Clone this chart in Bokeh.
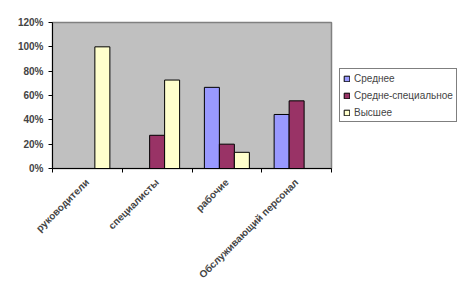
import numpy as np
from bokeh.plotting import figure
from bokeh.models import (ColumnDataSource, FixedTicker, NumeralTickFormatter,
                          Legend, LegendItem, Range1d, LinearAxis)
from bokeh.transform import dodge
from bokeh.embed import file_html
from bokeh.resources import INLINE

categories = ["руководители", "специалисты", "рабочие", "Обслуживающий персонал"]
series = ["Среднее", "Средне-специальное", "Высшее"]
srednee = [0.0, 0.0, 0.667, 0.444]
sred_spec = [0.0, 0.273, 0.20, 0.556]
vysshee = [1.0, 0.727, 0.133, 0.0]
colors = ["#9999FF", "#993366", "#FFFFCC"]
y_ticks = [0, 0.2, 0.4, 0.6, 0.8, 1.0, 1.2]

n = len(categories)
centers = np.arange(n) + 0.5
src = ColumnDataSource(dict(x=centers, s0=srednee, s1=sred_spec, s2=vysshee))

p = figure(output_backend="svg", toolbar_location=None,
           frame_width=279, frame_height=146,
           x_range=Range1d(0, n), y_range=Range1d(0, 1.2),
           x_axis_type=None, y_axis_type=None,
           min_border_left=52, min_border_right=138, min_border_top=22,
           min_border_bottom=126)
p.background_fill_color = "#C0C0C0"
p.border_fill_color = "white"
p.outline_line_color = "#808080"
p.outline_line_width = 1.5
p.xgrid.visible = False
p.ygrid.visible = False

bw = 0.215
offsets = [-bw, 0.0, bw]
renderers = []
for i, (col, c) in enumerate(zip(["s0", "s1", "s2"], colors)):
    r = p.vbar(x=dodge("x", offsets[i], range=p.x_range), top=col, bottom=0,
               width=bw, source=src, fill_color=c, line_color="black", line_width=1)
    renderers.append(r)

font = "Liberation Sans"
yaxis = LinearAxis(ticker=FixedTicker(ticks=y_ticks),
                   formatter=NumeralTickFormatter(format="0%"))
yaxis.major_label_text_font = font
yaxis.major_label_text_font_style = "bold"
yaxis.major_label_text_font_size = "10px"
yaxis.major_tick_out = 4
yaxis.major_tick_in = 0
yaxis.minor_tick_out = 0
yaxis.minor_tick_in = 0
yaxis.major_label_standoff = 5
yaxis.axis_line_color = "black"
p.add_layout(yaxis, "left")

xaxis = LinearAxis(ticker=FixedTicker(ticks=list(centers), minor_ticks=list(range(n + 1))),
                   major_label_overrides={float(c): lab for c, lab in zip(centers, categories)})
xaxis.major_label_orientation = np.pi / 4
xaxis.major_label_text_font = font
xaxis.major_label_text_font_style = "bold"
xaxis.major_label_text_font_size = "10px"
xaxis.major_tick_out = 0
xaxis.major_tick_in = 0
xaxis.minor_tick_out = 4
xaxis.minor_tick_in = 0
xaxis.major_label_standoff = 8
xaxis.axis_line_color = "black"
p.add_layout(xaxis, "below")

legend = Legend(items=[LegendItem(label=s, renderers=[r]) for s, r in zip(series, renderers)],
                location="center_left")
legend.label_text_font = font
legend.label_text_font_size = "10px"
legend.glyph_width = 7
legend.glyph_height = 7
legend.label_height = 12
legend.label_standoff = 4
legend.spacing = 5
legend.padding = 3
legend.margin = 8
legend.border_line_color = "black"
legend.border_line_width = 1
legend.background_fill_color = "white"
legend.background_fill_alpha = 1.0
p.add_layout(legend, "right")

open("out.html", "w").write(file_html(p, INLINE))
